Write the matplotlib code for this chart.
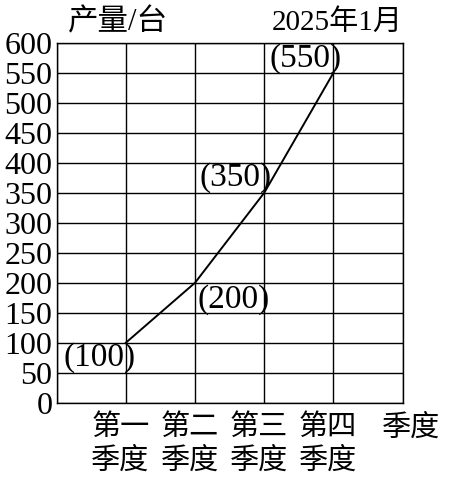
import matplotlib.pyplot as plt

# data
quarters = [1, 2, 3, 4]
quarter_labels = ["第一\n季度", "第二\n季度", "第三\n季度", "第四\n季度"]
output = [100, 200, 350, 550]
point_labels = ["(100)", "(200)", "(350)", "(550)"]
label_pos = [(0.62, 75), (2.56, 171), (2.58, 376), (3.59, 574)]
y_ticks = list(range(0, 601, 50))

fonts = ["Liberation Serif", "Noto Sans CJK SC", "DejaVu Sans"]
plt.rcParams["font.family"] = fonts

fig = plt.figure(figsize=(4.56, 4.99), dpi=100)
ax = fig.add_axes([0.1243, 0.193, 0.7588, 0.7214])

ax.plot(quarters, output, color="black", linewidth=1.4)

for (x, y), txt in zip(label_pos, point_labels):
    ax.text(x, y, txt, ha="center", va="center", fontsize=24)

ax.set_xlim(0, 5)
ax.set_ylim(0, 600)
ax.set_xticks(range(0, 6))
ax.set_yticks(y_ticks)
ax.set_yticklabels([str(v) for v in y_ticks], fontsize=23)
ax.set_xticklabels([])
ax.grid(True, color="black", linewidth=1)
ax.tick_params(length=0, pad=3)
for s in ax.spines.values():
    s.set_color("black")
    s.set_linewidth(1)

for q, lab in zip(quarters, quarter_labels):
    ax.text(q - 0.08, -20, lab, ha="center", va="top", fontsize=21,
            linespacing=1.3)
ax.text(5.12, -20, "季度", ha="center", va="top", fontsize=21)

fig.text(0.15, 0.955, "产量/台", ha="left", va="center", fontsize=22)
fig.text(0.884, 0.955, "2025年1月", ha="right", va="center", fontsize=21)

fig.savefig("out.png", dpi=100)
